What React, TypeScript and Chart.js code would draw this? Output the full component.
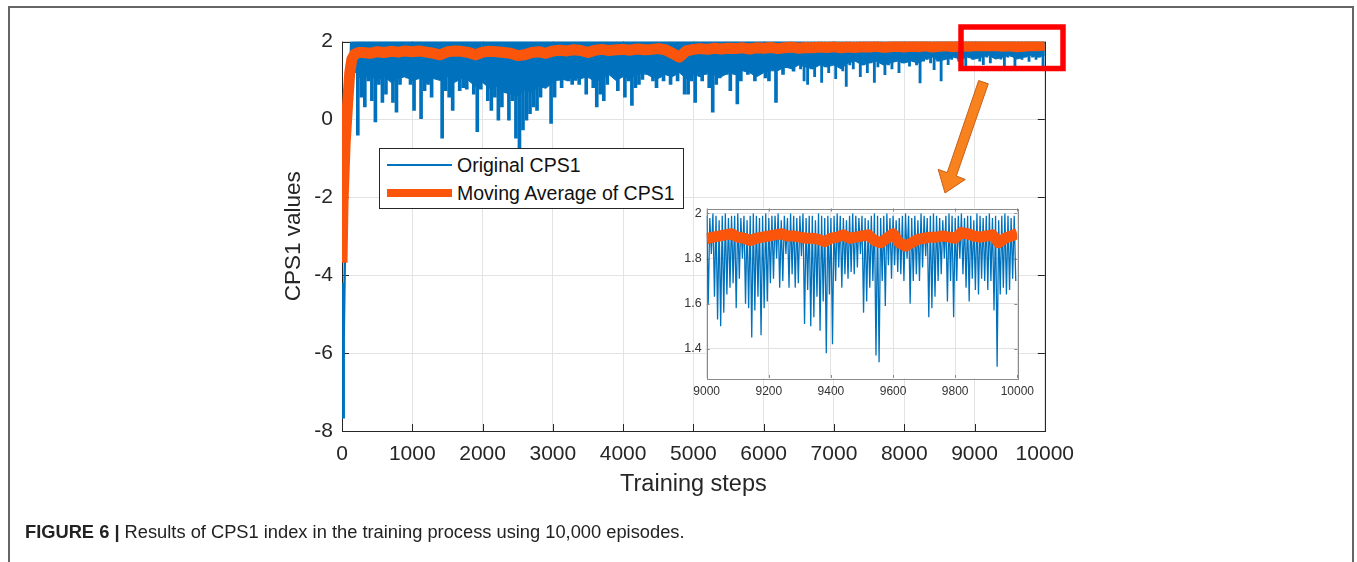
import React, { useEffect, useRef } from 'react';
import { Chart, registerables } from 'chart.js';

Chart.register(...registerables);

const FONT = "'Liberation Sans', Arial, Helvetica, sans-serif";
const BLUE = '#0072BD';
const ORANGE = '#FA550A';
const AXIS = '#262626';

// ---------- main axes ----------
const X_TICKS = [0, 1000, 2000, 3000, 4000, 5000, 6000, 7000, 8000, 9000, 10000];
const Y_TICKS = [-8, -6, -4, -2, 0, 2];

// original CPS1: initial ramp (steps / values)
const ORIG_RAMP_STEPS = [0, 8, 15, 25, 40, 55, 70, 85, 100, 115, 130, 145, 160];
const ORIG_RAMP_VALUES = [-4.2, -6.8, -7.65, -5.6, -3.7, -2.8, -1.3, 0.3, -0.2, 1.1, 2.0, 1.3, 2.0];
// original CPS1: upper limit of the dense band
const ORIG_TOP = 2.0;
// original CPS1: floor of the dense band, every 100 steps from step 200
const ORIG_BAND_FLOOR = [
  1.10, 1.05, 1.15, 1.00, 1.10, 0.95, 1.05, 1.10, 1.00, 1.05,
  0.95, 1.05, 1.00, 1.10, 0.95, 1.05, 1.00, 0.85, 0.95, 0.80,
  0.85, 0.70, 0.65, 0.60, 0.75, 0.70, 0.85, 0.80, 0.95, 1.05,
  1.00, 1.10, 1.05, 1.10, 0.95, 1.05, 1.15, 1.00, 1.10, 1.05,
  1.15, 1.20, 1.10, 1.05, 1.15, 1.10, 1.20, 1.05, 1.15, 1.10,
  1.20, 1.15, 1.10, 1.20, 1.15, 1.25, 1.20, 1.10, 1.20, 1.25,
  1.25, 1.35, 1.30, 1.40, 1.35, 1.30, 1.40, 1.35, 1.40, 1.30,
  1.45, 1.50, 1.40, 1.45, 1.50, 1.40, 1.45, 1.50, 1.45, 1.50,
  1.45, 1.55, 1.60, 1.50, 1.55, 1.60, 1.55, 1.60, 1.55, 1.60,
  1.65, 1.55, 1.60, 1.65, 1.55, 1.60, 1.65, 1.60, 1.65,
];
// original CPS1: deepest dip in each 50-step bin, from step 175
const ORIG_SPIKE_LOWS = [
  1.2, -0.4, 0.57, 0.32, 0.99, 0.48, -0.06, 0.9, 0.44, 0.65,
  1.16, 0.44, 0.19, 0.9, 1.2, 1.07, 0.9, 0.23, 1.1, 0.02,
  0.74, 0.9, 0.57, 1.07, 1.2, -0.48, 0.74, 0.57, 0.23, 1.1,
  0.74, 0.82, 0.78, 1.07, 0.65, -0.31, 0.78, 1.15, 0.48, 0.23,
  0.57, -0.02, 0.32, 0.9, -0.02, 0.48, -0.48, -0.78, -0.27, -0.02,
  0.15, 0.32, 0.23, 0.57, 0.9, 1.24, -0.1, 0.57, 1.0, 0.82,
  1.24, 0.99, 0.9, 1.0, 0.9, 1.2, 0.65, 1.07, 0.82, 0.32,
  0.65, 0.48, 0.9, 1.16, 1.41, 0.74, 1.2, 0.57, 0.99, 0.36,
  0.82, 0.9, 1.03, 1.16, 1.24, 0.99, 0.82, 1.11, 0.99, 1.24,
  0.9, 1.16, 0.99, 1.3, 0.65, 0.65, 0.99, 0.44, 1.3, 0.99,
  1.16, 0.82, 0.19, 0.9, 1.07, 1.3, 1.16, 0.74, 1.3, 0.4,
  0.99, 1.3, 1.16, 1.24, 0.99, 1.35, 1.33, 1.07, 0.99, 1.3,
  0.44, 1.35, 1.16, 1.33, 1.5, 1.24, 1.41, 1.3, 0.99, 0.9,
  1.3, 1.1, 1.4, 0.95, 1.35, 1.2, 1.45, 1.05, 1.4, 1.25,
  0.85, 1.4, 1.3, 1.5, 1.1, 1.4, 1.2, 1.45, 0.95, 1.35,
  1.5, 1.15, 1.4, 1.3, 1.5, 1.2, 1.45, 1.55, 1.37, 1.5,
  1.4, 0.94, 1.5, 1.54, 1.45, 1.28, 1.5, 0.99, 1.55, 1.41,
  1.54, 1.6, 1.5, 1.6, 1.28, 1.6, 1.54, 1.6, 1.5, 1.41,
  1.6, 1.45, 1.6, 1.58, 1.55, 1.37, 1.6, 1.62, 1.33, 1.6,
  1.54, 1.6, 1.49, 1.6, 1.54, 1.6, 1.28,
];
// moving average: start-up
const MA_EARLY_STEPS = [0, 15, 45, 80, 110, 140, 180, 240];
const MA_EARLY_VALUES = [-3.68, -2.1, -0.6, 0.4, 1.2, 1.55, 1.68, 1.72];
// moving average: every 100 steps from step 300
const MA_VALUES = [
  1.72, 1.70, 1.74, 1.72, 1.75, 1.73, 1.76, 1.74, 1.76, 1.73,
  1.70, 1.66, 1.74, 1.76, 1.75, 1.72, 1.66, 1.73, 1.75, 1.74,
  1.72, 1.70, 1.64, 1.66, 1.72, 1.74, 1.70, 1.76, 1.78, 1.76,
  1.79, 1.77, 1.72, 1.78, 1.80, 1.77, 1.79, 1.80, 1.78, 1.81,
  1.79, 1.80, 1.82, 1.79, 1.70, 1.60, 1.76, 1.80, 1.82, 1.80,
  1.83, 1.81, 1.83, 1.82, 1.84, 1.81, 1.84, 1.83, 1.85, 1.82,
  1.84, 1.86, 1.83, 1.85, 1.84, 1.86, 1.85, 1.87, 1.84, 1.86,
  1.85, 1.87, 1.86, 1.88, 1.85, 1.87, 1.88, 1.86, 1.88, 1.87,
  1.89, 1.86, 1.88, 1.89, 1.87, 1.89, 1.88, 1.89, 1.90, 1.89,
  1.90, 1.88, 1.89, 1.87, 1.88, 1.90, 1.89, 1.91,
];

// ---------- inset (steps 9000-10000) ----------
const INSET_X_TICKS = [9000, 9200, 9400, 9600, 9800, 10000];
const INSET_Y_TICKS = [1.4, 1.6, 1.8, 2];
const INSET_Y_LABELS = ['1.4', '1.6', '1.8', '2'];
// per 10-step bin: highest and lowest original value
const INSET_HIGHS = [
  1.99, 1.98, 2.0, 1.99, 1.97, 1.99, 2.0, 1.98, 1.99, 1.99,
  2.0, 1.98, 1.99, 1.97, 1.99, 2.0, 1.99, 1.98, 1.99, 2.0,
  1.98, 1.99, 1.99, 2.0, 1.97, 1.99, 1.98, 2.0, 1.99, 1.98,
  1.99, 2.0, 1.98, 1.99, 1.99, 1.97, 2.0, 1.99, 1.98, 1.99,
  1.98, 1.99, 2.0, 1.99, 1.98, 1.97, 1.99, 2.0, 1.99, 1.98,
  1.99, 1.98, 1.97, 1.99, 2.0, 1.99, 1.98, 1.99, 2.0, 1.98,
  1.99, 1.97, 1.98, 1.99, 2.0, 1.99, 1.98, 1.99, 1.97, 2.0,
  1.99, 1.98, 1.99, 2.0, 1.99, 1.98, 1.97, 1.99, 2.0, 1.99,
  1.98, 1.99, 2.0, 1.98, 1.99, 1.99, 1.97, 2.0, 1.99, 1.98,
  1.99, 2.0, 1.98, 1.99, 1.97, 1.99, 2.0, 1.99, 1.98, 1.99,
];
const INSET_LOWS = [
  1.60, 1.82, 1.63, 1.53, 1.50, 1.56, 1.64, 1.67, 1.69, 1.58,
  1.71, 1.80, 1.60, 1.58, 1.45, 1.57, 1.63, 1.46, 1.58, 1.61,
  1.69, 1.71, 1.80, 1.67, 1.70, 1.82, 1.67, 1.73, 1.67, 1.69,
  1.81, 1.51, 1.66, 1.50, 1.54, 1.63, 1.48, 1.61, 1.38, 1.64,
  1.42, 1.70, 1.76, 1.67, 1.73, 1.71, 1.74, 1.73, 1.76, 1.82,
  1.56, 1.61, 1.67, 1.70, 1.37, 1.34, 1.70, 1.59, 1.77, 1.71,
  1.77, 1.74, 1.73, 1.70, 1.80, 1.60, 1.70, 1.73, 1.70, 1.76,
  1.81, 1.54, 1.58, 1.63, 1.70, 1.73, 1.80, 1.61, 1.70, 1.54,
  1.70, 1.80, 1.73, 1.67, 1.61, 1.71, 1.66, 1.64, 1.71, 1.70,
  1.66, 1.70, 1.57, 1.32, 1.64, 1.67, 1.64, 1.66, 1.71, 1.70,
];
// moving average every 20 steps from 9000
const INSET_MA = [
  1.888, 1.895, 1.90, 1.905, 1.91, 1.895, 1.89, 1.88, 1.89, 1.895,
  1.90, 1.905, 1.91, 1.90, 1.90, 1.895, 1.89, 1.89, 1.885, 1.875,
  1.89, 1.895, 1.905, 1.89, 1.895, 1.90, 1.905, 1.88, 1.87, 1.89,
  1.91, 1.87, 1.855, 1.87, 1.885, 1.89, 1.895, 1.895, 1.90, 1.895,
  1.89, 1.915, 1.91, 1.90, 1.895, 1.90, 1.905, 1.87, 1.89, 1.90,
  1.91,
];

// MATLAB-like axes: white plot background, box, inward ticks
const matlabAxes = {
  id: 'matlabAxes',
  beforeDraw(chart: any, _a: any, opts: any) {
    if (!opts.background) return;
    const { ctx, chartArea: a } = chart;
    ctx.save();
    ctx.fillStyle = opts.background;
    ctx.fillRect(a.left, a.top, a.right - a.left, a.bottom - a.top);
    ctx.restore();
  },
  beforeDatasetsDraw(chart: any, _a: any, opts: any) {
    const { ctx, chartArea: a, scales } = chart;
    const L = opts.tickLength;
    ctx.save();
    ctx.strokeStyle = opts.color;
    ctx.lineWidth = opts.lineWidth;
    ctx.beginPath();
    for (const t of scales.x.ticks) {
      const px = Math.round(scales.x.getPixelForValue(t.value)) + 0.5;
      ctx.moveTo(px, a.bottom); ctx.lineTo(px, a.bottom - L);
      ctx.moveTo(px, a.top); ctx.lineTo(px, a.top + L);
    }
    for (const t of scales.y.ticks) {
      const py = Math.round(scales.y.getPixelForValue(t.value)) + 0.5;
      ctx.moveTo(a.left, py); ctx.lineTo(a.left + L, py);
      ctx.moveTo(a.right, py); ctx.lineTo(a.right - L, py);
    }
    ctx.stroke();
    ctx.strokeRect(Math.round(a.left) + 0.5, Math.round(a.top) + 0.5,
      Math.round(a.right - a.left), Math.round(a.bottom - a.top));
    ctx.restore();
  },
};

function mainConfig(): any {
  const ramp = ORIG_RAMP_STEPS.map((s, i) => ({ x: s, y: ORIG_RAMP_VALUES[i] }));
  const band = ORIG_BAND_FLOOR.map((v, k) => ({ x: 200 + 100 * k, y: v }));
  const spikes = ORIG_SPIKE_LOWS.map((v, k) => ({ x: 175 + 50 * k, y: [v, ORIG_TOP] }));
  const spikesEarly = spikes.filter((p) => p.x < 6500);
  const spikesLate = spikes.filter((p) => p.x >= 6500);
  const ma = [
    ...MA_EARLY_STEPS.map((s, i) => ({ x: s, y: MA_EARLY_VALUES[i] })),
    ...MA_VALUES.map((v, k) => ({ x: 300 + 100 * k, y: v })),
  ];
  return {
    type: 'line',
    data: {
      datasets: [
        { label: 'Moving Average of CPS1', data: ma, borderColor: ORANGE, borderWidth: 11,
          pointRadius: 0, borderJoinStyle: 'round', fill: false, order: 0 },
        { label: 'ramp', data: ramp, borderColor: BLUE, borderWidth: 2.4, pointRadius: 0, fill: false, order: 1 },
        { label: 'band', data: band, borderColor: BLUE, backgroundColor: BLUE, borderWidth: 1,
          pointRadius: 0, fill: 'end', order: 2 },
        { type: 'bar', label: 'spikes', data: spikesEarly, backgroundColor: BLUE, borderWidth: 0,
          barThickness: 3.0, grouped: false, order: 3 },
        { type: 'bar', label: 'spikes late', data: spikesLate, backgroundColor: BLUE, borderWidth: 0,
          barThickness: 2.2, grouped: false, order: 4 },
      ],
    },
    options: {
      responsive: false,
      animation: false,
      events: [],
      layout: { padding: { left: 0, top: 15, right: 34, bottom: 0 } },
      plugins: {
        legend: { display: false },
        tooltip: { enabled: false },
        matlabAxes: { color: AXIS, lineWidth: 1, tickLength: 7 },
      },
      scales: {
        x: {
          type: 'linear', min: 0, max: 10000, offset: false,
          afterBuildTicks: (s: any) => { s.ticks = X_TICKS.map((v) => ({ value: v })); },
          afterFit: (s: any) => { s.height = 79; },
          ticks: { font: { size: 21, family: FONT }, color: AXIS, padding: 11, maxRotation: 0,
            autoSkip: false, callback: (v: any) => String(v) },
          grid: { color: '#e3e3e3', drawTicks: false, lineWidth: 1, offset: false },
          border: { display: false },
          title: { display: true, text: 'Training steps', color: AXIS,
            font: { size: 23.5, family: FONT }, padding: { top: 0, bottom: 10.9 } },
        },
        y: {
          type: 'linear', min: -8, max: 2,
          afterBuildTicks: (s: any) => { s.ticks = Y_TICKS.map((v) => ({ value: v })); },
          afterFit: (s: any) => { s.width = 102; },
          ticks: { font: { size: 21, family: FONT }, color: AXIS, padding: 9,
            autoSkip: false, callback: (v: any) => String(v) },
          grid: { color: '#e3e3e3', drawTicks: false, lineWidth: 1 },
          border: { display: false },
          title: { display: true, text: 'CPS1 values', color: AXIS,
            font: { size: 22.5, family: FONT }, padding: { top: 40, bottom: 0 } },
        },
      },
    },
    plugins: [matlabAxes],
  };
}

function insetConfig(): any {
  const zig = INSET_HIGHS.flatMap((h, j) => [
    { x: 9000 + 10 * j, y: h },
    { x: 9005 + 10 * j, y: INSET_LOWS[j] },
  ]);
  const ma = INSET_MA.map((v, k) => ({ x: 9000 + 20 * k, y: v }));
  return {
    type: 'line',
    data: {
      datasets: [
        { label: 'MA', data: ma, borderColor: ORANGE, borderWidth: 11, pointRadius: 0,
          borderJoinStyle: 'round', fill: false, order: 0 },
        { label: 'orig', data: zig, borderColor: BLUE, borderWidth: 1.3, pointRadius: 0,
          fill: false, order: 1 },
      ],
    },
    options: {
      responsive: false,
      animation: false,
      events: [],
      layout: { padding: { left: 0, top: 10, right: 19.3, bottom: 0 } },
      plugins: {
        legend: { display: false },
        tooltip: { enabled: false },
        matlabAxes: { color: '#8a8a8a', lineWidth: 1, tickLength: 3, background: '#ffffff' },
      },
      scales: {
        x: {
          type: 'linear', min: 9000, max: 10000,
          afterBuildTicks: (s: any) => { s.ticks = INSET_X_TICKS.map((v) => ({ value: v })); },
          afterFit: (s: any) => { s.height = 32; },
          ticks: { font: { size: 12, family: FONT }, color: '#333', padding: 6, maxRotation: 0,
            autoSkip: false, callback: (v: any) => String(v) },
          grid: { color: '#e2e2e2', drawTicks: false, lineWidth: 1 },
          border: { display: false },
        },
        y: {
          type: 'linear', min: 1.27, max: 2.022,
          afterBuildTicks: (s: any) => { s.ticks = INSET_Y_TICKS.map((v) => ({ value: v })); },
          afterFit: (s: any) => { s.width = 46.7; },
          ticks: { font: { size: 12.5, family: FONT }, color: '#333', padding: 5, autoSkip: false,
            callback: (v: any) => INSET_Y_LABELS[INSET_Y_TICKS.indexOf(Number(v))] ?? String(v) },
          grid: { color: '#e2e2e2', drawTicks: false, lineWidth: 1 },
          border: { display: false },
        },
      },
    },
    plugins: [matlabAxes],
  };
}

export default function App() {
  const mainRef = useRef<HTMLCanvasElement>(null);
  const insetRef = useRef<HTMLCanvasElement>(null);

  useEffect(() => {
    const main = new Chart(mainRef.current as HTMLCanvasElement, mainConfig());
    const inset = new Chart(insetRef.current as HTMLCanvasElement, insetConfig());
    return () => { main.destroy(); inset.destroy(); };
  }, []);

  return (
    <div style={{ position: 'absolute', left: 0, top: 0, width: 1357, height: 562, overflow: 'hidden',
      background: '#fff', fontFamily: FONT }}>
      <div style={{ position: 'absolute', left: 8, top: 6, width: 1346, height: 620, boxSizing: 'border-box',
        borderTop: '2px solid #666', borderLeft: '2px solid #666', borderRight: '2px solid #666' }} />
      <canvas ref={mainRef} width={845} height={490}
        style={{ position: 'absolute', left: 240, top: 20, width: 845, height: 490 }} />
      <div style={{ position: 'absolute', left: 379, top: 148, width: 305, height: 61, boxSizing: 'border-box',
        border: '1.3px solid #262626', background: '#fff' }}>
        <div style={{ position: 'absolute', left: 7, top: 15, width: 65, height: 2, background: BLUE }} />
        <div style={{ position: 'absolute', left: 77, top: 4, lineHeight: '24px', fontSize: 19.5,
          color: '#111', whiteSpace: 'nowrap' }}>Original CPS1</div>
        <div style={{ position: 'absolute', left: 7, top: 40, width: 65, height: 8, background: ORANGE }} />
        <div style={{ position: 'absolute', left: 77, top: 32, lineHeight: '24px', fontSize: 19.5,
          color: '#111', whiteSpace: 'nowrap' }}>Moving Average of CPS1</div>
      </div>
      <canvas ref={insetRef} width={380} height={214}
        style={{ position: 'absolute', left: 660, top: 196, width: 380, height: 214 }} />
      <svg width={1357} height={562} style={{ position: 'absolute', left: 0, top: 0, pointerEvents: 'none' }}>
        <rect x={961} y={27} width={102} height={41.5} fill="none" stroke="#FF0000" strokeWidth={5.5} />
        <polygon points="988.3,83.8 956.3,176 965.3,179.4 945,193 938.2,169.4 947.2,172.6 978.7,80.5"
          fill="#F7821E" stroke="#C8601A" strokeWidth={1} />
      </svg>
      <div style={{ position: 'absolute', left: 25, top: 521, fontSize: 18.3, lineHeight: '22px', color: '#222',
        whiteSpace: 'nowrap' }}>
        <b>FIGURE 6 |</b> Results of CPS1 index in the training process using 10,000 episodes.
      </div>
    </div>
  );
}
